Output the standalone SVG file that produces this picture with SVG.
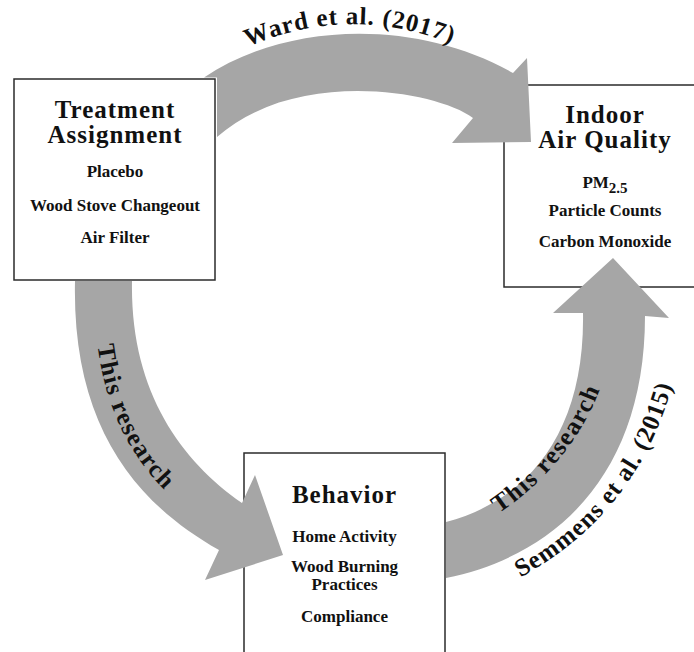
<svg xmlns="http://www.w3.org/2000/svg" width="694" height="652" viewBox="0 0 694 652">
<style>
.box{fill:#fff;stroke:#2b2b2b;stroke-width:1.5}
.arrow{fill:#a6a6a6;stroke:none}
text{font-family:"Liberation Serif","Times New Roman",serif;font-weight:bold;fill:#111}
.title{font-size:25px;letter-spacing:1px;text-anchor:middle}
.item{font-size:17px;text-anchor:middle}
.lbl{font-size:25px;letter-spacing:1px;text-anchor:middle}
</style>
<defs>
<path id="pWard" d="M230,55 Q350,-5 470,52"/>
<path id="pLeft" d="M95,300 C95,400 130,470 200,520"/>
<path id="pRight" d="M457,537 C522,507 597,442 612,342"/>
<path id="pSem" d="M474,599 C564,564 654,494 679,354"/>
</defs>
<rect width="694" height="652" fill="#fff"/>
<g id="treatment">
<rect class="box" x="14" y="79" width="201" height="201"/>
<text class="title" x="115" y="118">Treatment</text>
<text class="title" x="115" y="143">Assignment</text>
<text class="item" x="115" y="177">Placebo</text>
<text class="item" x="115" y="211">Wood Stove Changeout</text>
<text class="item" x="115" y="243">Air Filter</text>
</g>
<g id="indoor">
<rect class="box" x="504" y="85" width="201" height="202"/>
<text class="title" x="605" y="123">Indoor</text>
<text class="title" x="605" y="148">Air Quality</text>
<text class="item" x="605" y="188">PM<tspan font-size="15" dy="5">2.5</tspan></text>
<text class="item" x="605" y="216">Particle Counts</text>
<text class="item" x="605" y="247">Carbon Monoxide</text>
</g>
<g id="behavior">
<rect class="box" x="244" y="453" width="201" height="206"/>
<text class="title" x="344.5" y="503">Behavior</text>
<text class="item" x="344.5" y="542">Home Activity</text>
<text class="item" x="344.5" y="572">Wood Burning</text>
<text class="item" x="344.5" y="590">Practices</text>
<text class="item" x="344.5" y="622">Compliance</text>
</g>
<g id="connectors">
<path class="arrow" d="M204,77.5 C290,20 420,20 513,73 L527,58 L531,142 L452,143 L473,118 C435,90 295,68 217,137 L217,77.5 Z"/>
<path class="arrow" d="M132,281 C130,390 180,460 242,503 L255,475 L283,555 L205,580 L219,550 C130,500 72,420 75,281 Z"/>
<path class="arrow" d="M446,578 C560,555 645,470 645,316 L669,318 L613,258 L553,313 L583,313 C585,430 530,500 446,522 Z"/>
<text class="lbl" font-size="24"><textPath href="#pWard" startOffset="50%">Ward et al. (2017)</textPath></text>
<text class="lbl" style="letter-spacing:1.5px"><textPath href="#pLeft" startOffset="50%">This research</textPath></text>
<text class="lbl" style="letter-spacing:1.5px"><textPath href="#pRight" startOffset="50%">This research</textPath></text>
<text class="lbl"><textPath href="#pSem" startOffset="53%">Semmens et al. (2015)</textPath></text>
</g>
</svg>
